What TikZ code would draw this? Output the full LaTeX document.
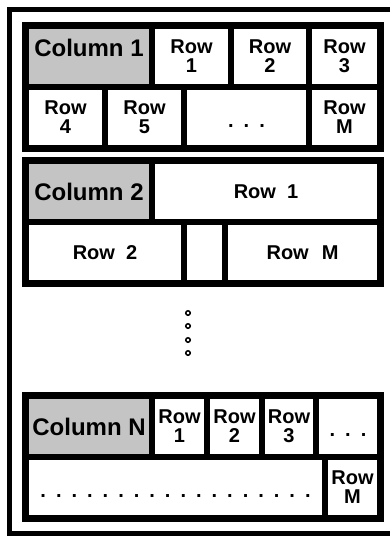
\documentclass[tikz,border=0pt]{standalone}
\usepackage{fontspec}
\setmainfont{Liberation Sans}
\usetikzlibrary{positioning}

\definecolor{headgray}{RGB}{196,196,196}
% a row of spaced periods
\newcommand{\rowdots}[1]{.\foreach \k in {2,...,#1}{\hspace{10pt}.}}

\begin{document}
\begin{tikzpicture}[x=1pt, y=1pt,
	frame/.style={fill=black, inner sep=0, outer sep=0, anchor=north west,
		minimum width=362pt, minimum height=130pt},
	cell/.style={fill=white, inner sep=0, outer sep=0, minimum height=55pt,
		align=center, font=\fontsize{20}{19}\selectfont\bfseries},
	head/.style={cell, fill=headgray, minimum width=120pt,
		font=\fontsize{24}{28}\selectfont\bfseries},
	dotcell/.style={cell, text height=20pt, text depth=0pt},
	vdot/.style={circle, draw, line width=1.5pt, inner sep=0, minimum size=4.5pt}
]
	\useasboundingbox (0,0) rectangle (390,-536);

	% Outer frame
	\draw[line width=5pt] (390,-9.5) -- (9.5,-9.5) -- (9.5,-533) -- (390,-533);

	% Blocks
	\node[frame] (b1) at (22,-22) {};
	\node[frame] (b2) at (22,-157) {};
	\node[frame] (bn) at (22,-392) {};

	% Column 1
	\node[head, text depth=18pt, below right=7pt and 7pt of b1.north west] (c1) {Column 1};
	\node[cell, minimum width=73pt, right=6pt of c1] (c1r1) {Row\\1};
	\node[cell, minimum width=72pt, right=6pt of c1r1] (c1r2) {Row\\2};
	\node[cell, minimum width=65pt, right=6pt of c1r2] (c1r3) {Row\\3};
	\node[cell, minimum width=73pt, below right=6pt and 0pt of c1.south west] (c1r4) {Row\\4};
	\node[cell, minimum width=73pt, right=6pt of c1r4] (c1r5) {Row\\5};
	\node[dotcell, minimum width=119pt, right=6pt of c1r5] (c1d) {\rowdots{3}};
	\node[cell, minimum width=65pt, right=6pt of c1d] (c1rm) {Row\\M};

	% Column 2
	\node[head, below right=7pt and 7pt of b2.north west] (c2) {Column 2};
	\node[cell, minimum width=222pt, right=6pt of c2] (c2r1) {Row\ \ 1};
	\node[cell, minimum width=152pt, below right=6pt and 0pt of c2.south west] (c2r2) {Row\ \ 2};
	\node[cell, minimum width=35pt, right=6pt of c2r2] (c2e) {};
	\node[cell, minimum width=149pt, right=6pt of c2e] (c2rm) {Row\hspace{13pt}M};

	% Vertical dots between blocks
	\foreach \i/\y in {1/313,2/326,3/340,4/353}
		\node[vdot] (v\i) at (188,-\y) {};

	% Column N
	\node[head, below right=7pt and 7pt of bn.north west] (cn) {Column N};
	\node[cell, minimum width=49pt, right=6pt of cn] (cnr1) {Row\\1};
	\node[cell, minimum width=49pt, right=6pt of cnr1] (cnr2) {Row\\2};
	\node[cell, minimum width=48pt, right=6pt of cnr2] (cnr3) {Row\\3};
	\node[dotcell, minimum width=58pt, right=6pt of cnr3] (cnd) {\rowdots{3}};
	\node[dotcell, minimum width=293pt, below right=6pt and 0pt of cn.south west] (cnd2) {\rowdots{18}};
	\node[cell, minimum width=49pt, right=6pt of cnd2] (cnrm) {Row\\M};

\end{tikzpicture}
\end{document}
